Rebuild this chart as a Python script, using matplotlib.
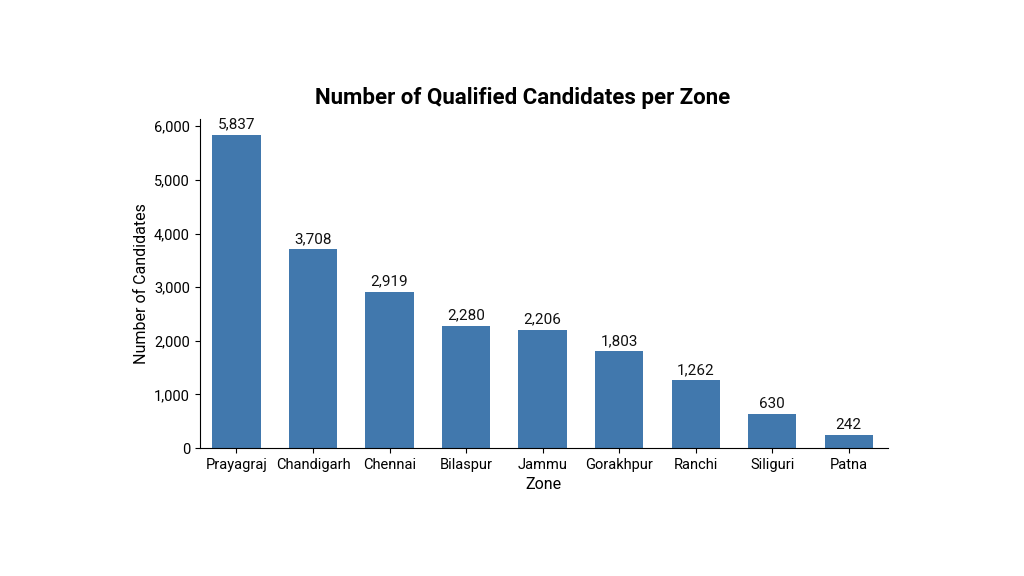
import matplotlib
matplotlib.use("Agg")
import matplotlib.pyplot as plt

zones = ["Prayagraj", "Chandigarh", "Chennai", "Bilaspur", "Jammu", "Gorakhpur", "Ranchi", "Siliguri", "Patna"]
counts = [5837, 3708, 2919, 2280, 2206, 1803, 1262, 630, 242]

plt.rcParams['font.family'] = ['Roboto', 'DejaVu Sans']
fig = plt.figure(figsize=(10.24, 5.76), dpi=100)
fig.patch.set_facecolor('white')
ax = fig.add_axes([0.195, 0.222, 0.672, 0.571])
x = range(len(zones))
bars = ax.bar(x, counts, width=0.63, color='#4178ad')
for xi, v in zip(x, counts):
    ax.text(xi, v + 60, f"{v:,}", ha='center', va='bottom', fontsize=11, color='#111111')
ax.set_xticks(list(x))
ax.set_xticklabels(zones, fontsize=10.5)
ax.set_xlim(-0.48, 8.51)
ax.set_ylim(0, 6130)
ax.set_yticks([0, 1000, 2000, 3000, 4000, 5000, 6000])
ax.set_yticklabels([f"{t:,}" for t in [0, 1000, 2000, 3000, 4000, 5000, 6000]], fontsize=10.5)
ax.spines['top'].set_visible(False)
ax.spines['right'].set_visible(False)
ax.set_xlabel("Zone", fontsize=11.5)
ax.set_ylabel("Number of Candidates", fontsize=11.5)
fig.text(0.51, 0.83, "Number of Qualified Candidates per Zone", ha='center', va='center', fontsize=16, fontweight='bold')
fig.savefig("out.png", dpi=100)
